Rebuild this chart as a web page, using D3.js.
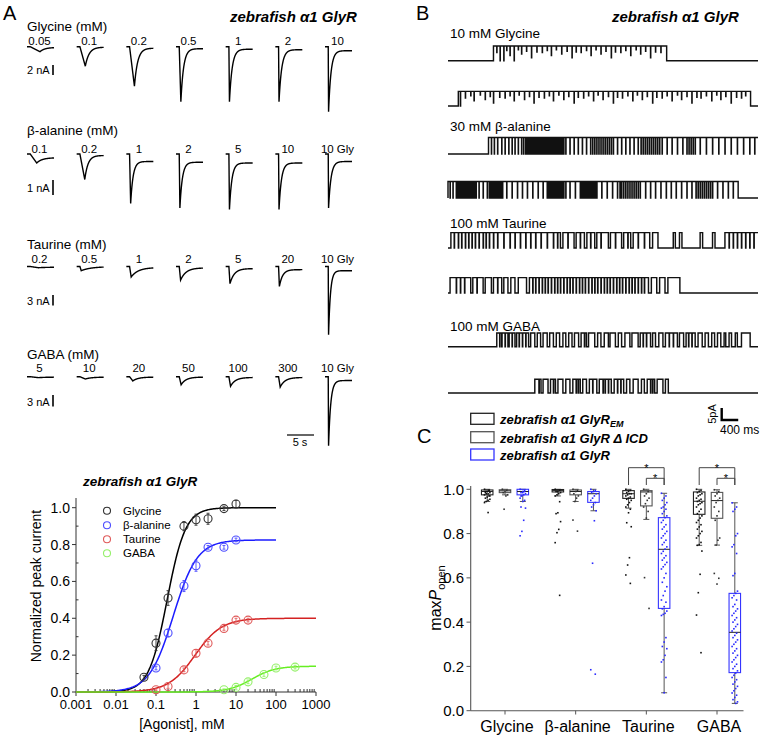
<!DOCTYPE html>
<html><head><meta charset="utf-8">
<script src="https://cdn.jsdelivr.net/npm/d3@7"></script>
<style>body{margin:0;background:#fff}svg{display:block;font-family:"Liberation Sans",Arial,sans-serif}</style>
</head><body><svg id="c" width="762" height="737"></svg>
<script>
// ---------------- Panel A : whole-cell traces ----------------
const rowNames = ["Glycine (mM)", "β-alanine (mM)", "Taurine (mM)", "GABA (mM)"];
const glyLabels = ["0.05","0.1","0.2","0.5","1","2","10"];
const glyPeak = [1.0, 3.9, 7.9, 11, 11, 11, 13];
const glyRise = [1.8, 1.0, 0.9, 0.3, 0.1, 0.08, 0.06];
const glyTau  = [0.9, 0.7, 0.6, 0.5, 0.5, 0.5, 0.45];
const glySS   = [0.15, 0.1, 0.3, 0.4, 0.5, 0.6, 0.8];
const alaLabels = ["0.1","0.2","1","2","5","10","10 Gly"];
const alaPeak = [0.6, 1.7, 3.3, 3.6, 3.7, 3.7, 3.6];
const alaRise = [1.2, 0.9, 0.2, 0.12, 0.1, 0.08, 0.06];
const alaTau  = [1.0, 0.6, 0.45, 0.45, 0.45, 0.45, 0.45];
const alaSS   = [0.25, 0.1, 0.5, 0.55, 0.6, 0.6, 0.5];
const tauLabels = ["0.2","0.5","1","2","5","20","10 Gly"];
const tauPeak = [0.35, 1.2, 3.0, 3.9, 4.9, 5.7, 19.5];
const tauRise = [1.5, 0.25, 0.3, 0.25, 0.2, 0.15, 0.06];
const tauTau  = [1.5, 1.8, 1.3, 1.0, 0.8, 0.6, 0.35];
const tauSS   = [0.2, 0.05, 0.3, 0.4, 0.6, 0.9, 1.2];
const gabLabels = ["5","10","20","50","100","300","10 Gly"];
const gabPeak = [0.25, 0.6, 1.1, 2.1, 2.5, 2.7, 18];
const gabRise = [1.5, 1.0, 0.6, 0.35, 0.3, 0.3, 0.06];
const gabTau  = [1.5, 1.2, 1.0, 0.9, 0.9, 0.9, 0.4];
const gabSS   = [0.1, 0.1, 0.1, 0.1, 0.2, 0.2, 1.0];
const scaleBarNA = [2, 1, 3, 3];

// ---------------- Panel A : concentration-response ----------------
const glyConc = [0.05,0.1,0.2,0.5,1,2,5,10];
const glyResp = [0.08,0.265,0.51,0.90,0.935,0.94,0.995,1.02];
const glySem  = [0.01,0.04,0.04,0.025,0.03,0.03,0.01,0.02];
const alaConc = [0.1,0.2,0.5,1,2,5,10];
const alaResp = [0.13,0.32,0.575,0.685,0.785,0.785,0.825];
const alaSem  = [0.01,0.02,0.03,0.03,0.01,0.01,0.01];
const tauConc = [0.1,0.2,0.5,1,2,5,10,20];
const tauResp = [0.012,0.03,0.12,0.21,0.265,0.345,0.39,0.39];
const tauSem  = [0.005,0.01,0.01,0.02,0.01,0.01,0.01,0.01];
const gabConc = [5,10,20,50,100,300];
const gabResp = [0.012,0.025,0.055,0.095,0.13,0.135];
const gabSem  = [0.005,0.01,0.01,0.01,0.01,0.01];
// Hill fit parameters: EC50 (mM), nH, Imax, upper conc of drawn fit
const fitEC50 = [0.19, 0.27, 0.95, 25];
const fitHill = [1.9, 1.45, 1.3, 1.5];
const fitMax  = [1.0, 0.825, 0.40, 0.14];
const fitTop  = [100, 100, 1000, 1000];
const agonists = ["Glycine", "β-alanine", "Taurine", "GABA"];
const xTickVals = [0.001,0.01,0.1,1,10,100,1000];
const xTickLabels = ["0.001","0.01","0.1","1","10","100","1000"];
const yTickVals = [0,0.2,0.4,0.6,0.8,1.0];

// ---------------- Panel B : single-channel (times in s, 0–7.5 s) ----------------
const bLabels = ["10 mM Glycine","30 mM β-alanine","100 mM Taurine","100 mM GABA"];
const bAmpPA = [6.1, 6.9, 6.4, 5.7];
const flickerDepths = [0.45, 0.3, 0.65, 0.25, 0.55, 0.35, 0.8, 0.4];
const tr1Open = [[1.10,5.29]];
const tr1Close = [1.26,1.35,1.60];
const tr1Partial = [1.18,1.42,1.5,1.7,1.78,1.9,2.02,2.15,2.28,2.4,2.5,2.62,2.75,2.88,3.0,3.1,3.22,3.35,3.46,3.58,3.7,3.82,3.95,4.05,4.18,4.3,4.42,4.55,4.66,4.78,4.9,5.02,5.15];
const tr2Open = [[0.25,7.32]];
const tr2Close = [0.3];
const tr2Partial = [0.42,0.55,0.63,0.78,0.9,1.02,1.1,1.25,1.38,1.5,1.6,1.72,1.85,1.97,2.08,2.2,2.33,2.45,2.55,2.68,2.8,2.92,3.05,3.15,3.28,3.4,3.52,3.63,3.75,3.88,4.0,4.1,4.22,4.35,4.47,4.58,4.7,4.82,4.95,5.05,5.18,5.3,5.42,5.55,5.65,5.78,5.9,6.02,6.12,6.25,6.38,6.5,6.6,6.72,6.85,6.98,7.1,7.2];
const tr3Open = [[0.98,7.5]];
const tr3Close = [1.05,1.12,1.2,1.3,1.38,1.47,1.55,1.62,1.7,1.78,1.83,1.88,1.92,1.96,2.0,2.04,2.08,2.12,2.16,2.2,2.24,2.28,2.32,2.36,2.4,2.44,2.48,2.52,2.56,2.6,2.64,2.68,2.72,2.76,2.8,2.85,2.95,3.05,3.15,3.25,3.35,3.45,3.5,3.55,3.6,3.65,3.7,3.75,3.8,3.85,3.9,3.95,4.0,4.1,4.2,4.3,4.4,4.5,4.6,4.67,4.72,4.77,4.82,4.87,4.92,4.97,5.02,5.07,5.12,5.18,5.3,5.42,5.55,5.68,5.78,5.83,5.88,5.93,5.98,6.1,6.25,6.4,6.55,6.7,6.85,7.0,7.15,7.3,7.42];
const tr4Open = [[0,7.02]];
const tr4Close = [0.05,0.12,0.2,0.24,0.28,0.32,0.36,0.4,0.44,0.48,0.52,0.56,0.6,0.64,0.68,0.75,0.85,0.95,1.0,1.04,1.08,1.12,1.16,1.2,1.24,1.28,1.32,1.42,1.55,1.68,1.8,1.92,2.05,2.18,2.3,2.4,2.44,2.48,2.52,2.56,2.6,2.64,2.68,2.72,2.76,2.8,2.85,2.95,3.08,3.2,3.24,3.28,3.32,3.36,3.4,3.44,3.48,3.52,3.56,3.6,3.72,3.85,3.98,4.1,4.16,4.2,4.25,4.3,4.35,4.4,4.45,4.5,4.55,4.6,4.65,4.78,4.9,5.02,5.15,5.28,5.4,5.52,5.65,5.78,5.9,6.0,6.05,6.1,6.15,6.2,6.25,6.3,6.35,6.4,6.52,6.65,6.78,6.9];
const tr5Open = [[0.07,2.72],[2.78,3.05],[3.10,3.30],[3.36,3.55],[3.60,3.88],[3.93,4.20],[4.25,4.42],[4.48,4.88],[4.95,5.08],[5.45,5.50],[5.60,5.66],[6.10,6.16],[6.40,6.46],[6.70,7.5]];
const tr5Close = [0.15,0.25,0.33,0.42,0.5,0.58,0.66,0.75,0.85,0.92,1.0,1.1,1.2,1.35,1.5,1.62,1.75,1.88,2.0,2.12,2.25,2.4,2.55,2.65,2.9,3.2,3.45,3.7,4.05,4.35,4.6,4.75,6.8,6.9,7.0,7.1,7.2,7.3,7.4];
const tr6Open = [[0.05,0.55],[0.60,0.85],[0.90,1.05],[1.10,1.30],[1.35,1.45],[1.52,1.62],[1.70,1.90],[1.97,4.85],[4.92,5.05],[5.12,5.25],[5.32,5.61]];
const tr6Close = [0.2,0.3,0.4,0.7,1.2,2.05,2.12,2.2,2.28,2.35,2.42,2.5,2.58,2.65,2.72,2.8,2.88,2.95,3.02,3.1,3.18,3.25,3.32,3.4,3.48,3.55,3.62,3.7,3.78,3.85,3.92,4.0,4.08,4.15,4.22,4.3,4.38,4.45,4.52,4.6,4.68,4.75];
const tr7Open = [[1.18,1.45],[1.48,1.62],[1.66,1.95],[2.00,2.10],[2.16,2.24],[2.30,2.40],[2.46,2.55],[2.62,2.70],[2.78,2.85],[2.92,3.00],[3.06,3.16],[3.22,3.35],[3.40,3.55],[3.62,3.70],[3.78,3.88],[3.92,4.05],[4.12,4.20],[4.28,4.40],[4.45,4.60],[4.65,4.90],[4.95,5.02],[5.10,5.20],[5.26,5.55],[5.60,5.70],[5.76,5.98],[6.05,6.15],[6.22,6.30],[6.38,6.45],[6.52,6.60],[6.68,6.72],[6.80,6.86],[6.95,7.0],[7.1,7.31]];
const tr7Close = [1.25,1.3,1.38,1.55,1.72,1.8,1.88,3.3,4.72,4.8,5.35,5.45,5.82,5.9];
const tr8Open = [[2.10,2.25],[2.30,2.42],[2.48,2.60],[2.66,2.78],[2.85,2.95],[3.02,3.20],[3.26,3.35],[3.42,3.60],[3.66,3.95],[4.02,4.25],[4.32,4.40],[4.48,4.60],[4.68,4.75],[4.82,5.00],[5.06,5.20],[5.26,5.33]];
const tr8Close = [2.2,2.55,3.1,3.15,3.5,3.75,3.8,3.88,4.1,4.18,4.9,4.95];

// ---------------- Panel C : max Popen ----------------
const cCats = ["Glycine","β-alanine","Taurine","GABA"];
const cConstructs = ["EM","dICD","WT"];
// box stats: [whiskerLow, q1, median, q3, whiskerHigh]
const boxEM   = [[0.945,0.975,0.99,0.997,1.0],[0.97,0.988,0.995,0.999,1.0],[0.915,0.959,0.98,0.994,1.0],[0.747,0.887,0.946,0.988,1.0]];
const boxDICD = [[0.975,0.985,0.993,0.998,1.0],[0.945,0.975,0.99,0.997,1.0],[0.864,0.925,0.988,0.994,1.0],[0.748,0.869,0.949,0.986,0.998]];
const boxWT   = [[0.945,0.975,0.99,1.0,1.0],[0.903,0.941,0.98,0.99,1.0],[0.081,0.462,0.729,0.872,0.982],[0.033,0.172,0.354,0.530,0.939]];
const ptsEM = [
 [1.0,0.995,0.99,0.99,0.985,0.98,0.98,0.975,0.97,0.965,0.96,0.955,0.95,0.945,0.94,0.995,0.99,0.985,0.97,0.895],
 [1.0,0.995,0.99,0.99,0.985,0.98,0.975,0.97,0.944,0.894,0.89,0.854,0.819,0.804,0.759,0.521],
 [1.0,0.995,0.99,0.985,0.98,0.98,0.975,0.97,0.965,0.96,0.955,0.95,0.94,0.93,0.92,0.91,0.894,0.849,0.831,0.691,0.658,0.613,0.575],
 [1.0,0.995,0.99,0.985,0.98,0.975,0.97,0.96,0.955,0.95,0.945,0.94,0.935,0.93,0.92,0.91,0.9,0.89,0.88,0.87,0.86,0.85,0.84,0.83,0.82,0.81,0.8,0.79,0.78,0.76,0.75,0.747,0.721,0.616,0.533,0.432,0.262]];
const ptsDICD = [
 [1.0,0.995,0.99,0.985,0.975,0.97,0.91],
 [1.0,0.995,0.99,0.98,0.97,0.96,0.945,0.861,0.811],
 [1.0,0.99,0.98,0.97,0.96,0.95,0.935,0.92,0.9,0.87,0.601,0.462],
 [0.998,0.99,0.98,0.97,0.96,0.95,0.94,0.92,0.9,0.88,0.86,0.78,0.77,0.748,0.62,0.598,0.572]];
const ptsWT = [
 [1.0,0.995,0.99,0.985,0.98,0.975,0.97,0.96,0.95,0.945,0.92,0.915,0.86,0.81,0.79,0.99,0.985,0.97],
 [1.0,0.995,0.99,0.985,0.98,0.97,0.96,0.95,0.94,0.93,0.92,0.903,0.858,0.666,0.185,0.165],
 [0.982,0.97,0.96,0.95,0.94,0.93,0.92,0.915,0.91,0.9,0.89,0.88,0.872,0.86,0.85,0.84,0.83,0.82,0.81,0.8,0.79,0.78,0.77,0.76,0.75,0.74,0.73,0.72,0.71,0.7,0.69,0.68,0.67,0.66,0.65,0.64,0.62,0.6,0.58,0.56,0.54,0.52,0.5,0.49,0.47,0.46,0.45,0.44,0.435,0.43,0.33,0.31,0.29,0.28,0.25,0.23,0.22,0.15,0.081],
 [0.939,0.92,0.91,0.9,0.8,0.79,0.75,0.74,0.71,0.62,0.61,0.54,0.53,0.52,0.51,0.5,0.48,0.47,0.46,0.45,0.44,0.43,0.42,0.41,0.4,0.39,0.38,0.37,0.36,0.35,0.34,0.33,0.32,0.31,0.3,0.29,0.28,0.27,0.26,0.25,0.24,0.23,0.22,0.21,0.2,0.19,0.18,0.17,0.16,0.15,0.14,0.13,0.12,0.11,0.1,0.09,0.08,0.07,0.06,0.05,0.04,0.033]];
const sigCats = ["Taurine","GABA"];
const cYTicks = [0,0.2,0.4,0.6,0.8,1.0];

// =====================================================================
const svg = d3.select("#c");
function txt(x, y, s, size, opts = {}) {
  const t = svg.append("text").attr("x", x).attr("y", y).attr("font-size", size).attr("fill", opts.fill || "#000").text(s);
  if (opts.anchor) t.attr("text-anchor", opts.anchor);
  if (opts.bold) t.attr("font-weight", "bold");
  if (opts.italic) t.attr("font-style", "italic");
  return t;
}
txt(3, 19.5, "A", 20);
txt(416, 19.5, "B", 20);
txt(417, 443, "C", 20);
txt(230, 21.5, "zebrafish α1 GlyR", 15, {bold:1, italic:1});
txt(612, 21.5, "zebrafish α1 GlyR", 15, {bold:1, italic:1});

// ---- Panel A traces
const rows = [
  {labels: glyLabels, peak: glyPeak, rise: glyRise, tau: glyTau, ss: glySS},
  {labels: alaLabels, peak: alaPeak, rise: alaRise, tau: alaTau, ss: alaSS},
  {labels: tauLabels, peak: tauPeak, rise: tauRise, tau: tauTau, ss: tauSS},
  {labels: gabLabels, peak: gabPeak, rise: gabRise, tau: gabTau, ss: gabSS}];
const rowLay = [
  {head:30.5, lab:44.5, base:46.7, barY:65, barPx:10, barText:73.5},
  {head:135, lab:152.5, base:154, barY:180, barPx:15, barText:191.5},
  {head:248.5, lab:262.5, base:266.5, barY:295, barPx:10.5, barText:305},
  {head:358.5, lab:371.5, base:376.7, barY:395, barPx:11.5, barText:405.5}];
const colX = d3.scalePoint().domain(d3.range(7)).range([27, 325]);
const traceDur = 5, traceW = 27, t0 = 0.6;
const tSamples = d3.range(0, traceDur + 0.0001, 0.02);
rows.forEach((r, ri) => {
  const L = rowLay[ri];
  txt(27, L.head, rowNames[ri], 13.5);
  const amp = d3.scaleLinear().domain([0, scaleBarNA[ri]]).range([0, L.barPx]);
  r.labels.forEach((lab, i) => {
    const x0 = colX(i);
    const tx = d3.scaleLinear().domain([0, traceDur]).range([x0, x0 + traceW]);
    txt(x0 + traceW / 2 - 1, L.lab, lab, 11.5, {anchor: "middle"});
    const cur = t => {
      if (t < t0) return 0;
      if (t < t0 + r.rise[i]) return r.peak[i] * (t - t0) / r.rise[i];
      return r.ss[i] + (r.peak[i] - r.ss[i]) * Math.exp(-(t - t0 - r.rise[i]) / r.tau[i]);
    };
    const pts = tSamples.map(t => [t, cur(t)]);
    pts.push([t0 + r.rise[i], r.peak[i]]);
    pts.sort((a,b)=>a[0]-b[0]);
    svg.append("path").attr("d", d3.line().x(d => tx(d[0])).y(d => L.base + amp(d[1]))(pts))
      .attr("fill", "none").attr("stroke", "#000").attr("stroke-width", 1.4);
  });
  txt(27, L.barText, scaleBarNA[ri] + " nA", 11);
  svg.append("line").attr("x1", 53).attr("x2", 53).attr("y1", L.barY).attr("y2", L.barY + L.barPx)
    .attr("stroke", "#000").attr("stroke-width", 1.6);
});
svg.append("line").attr("x1", 287).attr("x2", 287 + traceW).attr("y1", 435).attr("y2", 435).attr("stroke", "#000").attr("stroke-width", 1.2);
txt(300, 446, "5 s", 11, {anchor: "middle"});

// ---- Panel A concentration-response
const xD = d3.scaleLog().domain([0.001, 1000]).range([76, 316]);
const yD = d3.scaleLinear().domain([0, 1]).range([692, 507.7]);
txt(83, 486, "zebrafish α1 GlyR", 13.5, {bold:1, italic:1});
const axC = "#333";
svg.append("line").attr("x1", 76).attr("x2", 76).attr("y1", 498).attr("y2", 692).attr("stroke", axC);
svg.append("line").attr("x1", 76).attr("x2", 316).attr("y1", 692).attr("y2", 692).attr("stroke", axC);
yTickVals.forEach(v => {
  svg.append("line").attr("x1", 72).attr("x2", 76).attr("y1", yD(v)).attr("y2", yD(v)).attr("stroke", axC);
  txt(70, yD(v) + 5, v.toFixed(1), 14, {anchor: "end"});
});
d3.range(0.1, 1.0, 0.2).forEach(v => svg.append("line").attr("x1", 76).attr("x2", 78.5).attr("y1", yD(v)).attr("y2", yD(v)).attr("stroke", axC));
xTickVals.forEach((v, i) => {
  svg.append("line").attr("x1", xD(v)).attr("x2", xD(v)).attr("y1", 692).attr("y2", 696).attr("stroke", axC);
  txt(xD(v), 709, xTickLabels[i], 13, {anchor: "middle"});
  if (v < 1000) d3.range(2, 10).forEach(m => svg.append("line").attr("x1", xD(v*m)).attr("x2", xD(v*m)).attr("y1", 692).attr("y2", 689).attr("stroke", axC));
});
txt(182, 729, "[Agonist], mM", 14, {anchor: "middle"});
svg.append("text").attr("transform", "translate(41,586) rotate(-90)").attr("text-anchor", "middle").attr("font-size", 14).text("Normalized peak current");

const lineCols = ["#000000", "#1c1cff", "#d42222", "#66ee22"];
const ptCols = ["#333333", "#4d4dff", "#e05a5a", "#95f06a"];
const doseSets = [[glyConc, glyResp, glySem], [alaConc, alaResp, alaSem], [tauConc, tauResp, tauSem], [gabConc, gabResp, gabSem]];
doseSets.forEach((ds, k) => {
  const logs = d3.range(-3, Math.log10(fitTop[k]) + 0.0001, 0.02);
  const curve = logs.map(l => { const c = Math.pow(10, l); return [c, fitMax[k] / (1 + Math.pow(fitEC50[k] / c, fitHill[k]))]; });
  svg.append("path").attr("d", d3.line().x(d => xD(d[0])).y(d => yD(d[1]))(curve))
    .attr("fill", "none").attr("stroke", lineCols[k]).attr("stroke-width", 1.5);
});
doseSets.forEach((ds, k) => {
  const [cs, vs, se] = ds;
  cs.forEach((c, i) => {
    const x = xD(c);
    svg.append("line").attr("x1", x).attr("x2", x).attr("y1", yD(vs[i] - se[i])).attr("y2", yD(vs[i] + se[i])).attr("stroke", ptCols[k]).attr("stroke-width", 0.9);
    [vs[i] - se[i], vs[i] + se[i]].forEach(v => svg.append("line").attr("x1", x - 1.5).attr("x2", x + 1.5).attr("y1", yD(v)).attr("y2", yD(v)).attr("stroke", ptCols[k]).attr("stroke-width", 0.9));
    svg.append("circle").attr("cx", x).attr("cy", yD(vs[i])).attr("r", 4).attr("fill", "none").attr("stroke", ptCols[k]).attr("stroke-width", 1.1);
  });
});
const legY = [510.7, 525.3, 539.3, 553.3];
agonists.forEach((a, k) => {
  svg.append("circle").attr("cx", 107).attr("cy", legY[k]).attr("r", 3.5).attr("fill", "none").attr("stroke", ptCols[k]).attr("stroke-width", 1.1);
  txt(123, legY[k] + 4, a, 11.5);
});

// ---- Panel B single-channel traces
const xB = d3.scaleLinear().domain([0, 7.5]).range([448, 758]);
const pxPerPA = 12 / 5;
const bTraces = [
  {open: tr1Open, close: tr1Close, part: tr1Partial, y: 60.7, ag: 0},
  {open: tr2Open, close: tr2Close, part: tr2Partial, y: 106, ag: 0},
  {open: tr3Open, close: tr3Close, part: [], y: 154, ag: 1},
  {open: tr4Open, close: tr4Close, part: [], y: 198, ag: 1},
  {open: tr5Open, close: tr5Close, part: [], y: 248, ag: 2},
  {open: tr6Open, close: tr6Close, part: [], y: 293, ag: 2},
  {open: tr7Open, close: tr7Close, part: [], y: 346.7, ag: 3},
  {open: tr8Open, close: tr8Close, part: [], y: 393, ag: 3}];
const bLabY = [38, 131, 227.5, 330.5];
bLabels.forEach((l, k) => txt(450, bLabY[k], l, 13.5));
bTraces.forEach(tr => {
  const cd = tr.ag <= 1 ? 0.005 : 0.008;
  const pts = [[0, 0]];
  let endOpen = false;
  tr.open.forEach(([s, e]) => {
    pts.push([s, 0], [s, 1]);
    const ev = tr.close.filter(c => c > s && c < e).map(c => [c, 0])
      .concat(tr.part.filter(c => c > s && c < e).map((c, i) => [c, 1 - flickerDepths[i % flickerDepths.length]]))
      .sort((a, b) => a[0] - b[0]);
    ev.forEach(([c, l]) => pts.push([c, 1], [c, l], [c + cd, l], [c + cd, 1]));
    if (e >= 7.5) { pts.push([7.5, 1]); endOpen = true; }
    else pts.push([e, 1], [e, 0]);
  });
  if (!endOpen) pts.push([7.5, 0]);
  const amp = bAmpPA[tr.ag] * pxPerPA;
  svg.append("path").attr("d", d3.line().x(d => xB(d[0])).y(d => tr.y - d[1] * amp)(pts))
    .attr("fill", "none").attr("stroke", "#111").attr("stroke-width", 1.45);
});
svg.append("path").attr("d", `M721.7,${420 - 5 * pxPerPA}V420H${721.7 + (0.4 / 7.5) * 310}`).attr("fill", "none").attr("stroke", "#000").attr("stroke-width", 2.4);
svg.append("text").attr("transform", "translate(716,414) rotate(-90)").attr("text-anchor", "middle").attr("font-size", 11).text("5pA");
txt(720, 434, "400 ms", 12);

// ---- Panel C box plot
const yC = d3.scaleLinear().domain([0, 1]).range([710.7, 489.3]);
const xC = d3.scalePoint().domain(cCats).range([505, 717]);
const off = [-17.8, 0, 17.8];
const boxCol = ["#222222", "#555555", "#3535ff"];
const dotCol = ["#111111", "#333333", "#2a2aff"];
const legRowY = [413.3, 431.7, 449];
const legNames = ["zebrafish α1 GlyR", "zebrafish α1 GlyR  Δ ICD", "zebrafish α1 GlyR"];
legNames.forEach((n, k) => {
  svg.append("rect").attr("x", 470.7).attr("y", legRowY[k]).attr("width", 23.3).attr("height", 11).attr("fill", "none").attr("stroke", boxCol[k]).attr("stroke-width", 1.3);
  const t = txt(500, legRowY[k] + 11, n, 13, {bold:1, italic:1});
  if (k === 0) t.append("tspan").attr("font-size", 9).attr("dy", 3).text("EM");
});
svg.append("line").attr("x1", 470.7).attr("x2", 470.7).attr("y1", 486).attr("y2", 710.7).attr("stroke", "#555").attr("stroke-width", 1.1);
svg.append("line").attr("x1", 470.7).attr("x2", 743.5).attr("y1", 710.7).attr("y2", 710.7).attr("stroke", "#555").attr("stroke-width", 1.1);
cYTicks.forEach(v => {
  svg.append("line").attr("x1", 466.5).attr("x2", 470.7).attr("y1", yC(v)).attr("y2", yC(v)).attr("stroke", "#555");
  txt(464, yC(v) + 5.5, v.toFixed(1), 15, {anchor: "end"});
});
cCats.forEach(c => {
  svg.append("line").attr("x1", xC(c)).attr("x2", xC(c)).attr("y1", 710.7).attr("y2", 714.5).attr("stroke", "#555");
  txt(xC(c) + 2, 732, c, 16, {anchor: "middle"});
});
const yl = svg.append("text").attr("transform", "translate(441,598) rotate(-90)").attr("text-anchor", "middle").attr("font-size", 16);
yl.append("tspan").text("max");
yl.append("tspan").attr("font-style", "italic").text("P");
yl.append("tspan").attr("font-size", 11).attr("dy", 4).text("open");

const boxes = [boxEM, boxDICD, boxWT];
const pts = [ptsEM, ptsDICD, ptsWT];
const bw = 11.5;
cCats.forEach((c, gi) => {
  cConstructs.forEach((k, ki) => {
    const cx = xC(c) + off[ki];
    const [wl, q1, md, q3, wh] = boxes[ki][gi];
    const wc = "#555";
    svg.append("line").attr("x1", cx).attr("x2", cx).attr("y1", yC(wh)).attr("y2", yC(q3)).attr("stroke", wc);
    svg.append("line").attr("x1", cx).attr("x2", cx).attr("y1", yC(q1)).attr("y2", yC(wl)).attr("stroke", wc);
    [wl, wh].forEach(v => svg.append("line").attr("x1", cx - 3).attr("x2", cx + 3).attr("y1", yC(v)).attr("y2", yC(v)).attr("stroke", wc));
    svg.append("rect").attr("x", cx - bw / 2).attr("y", yC(q3)).attr("width", bw).attr("height", Math.max(1, yC(q1) - yC(q3)))
      .attr("fill", "none").attr("stroke", boxCol[ki]).attr("stroke-width", 1.1);
    svg.append("line").attr("x1", cx - bw / 2).attr("x2", cx + bw / 2).attr("y1", yC(md)).attr("y2", yC(md)).attr("stroke", "#222").attr("stroke-width", 1);
    pts[ki][gi].forEach((v, i) => {
      const j = ((i * 5) % 7 - 3) * 0.9;
      svg.append("rect").attr("x", cx + j - 0.8).attr("y", yC(v) - 0.8).attr("width", 1.6).attr("height", 1.6).attr("fill", dotCol[ki]);
    });
  });
});
sigCats.forEach(c => {
  const a = xC(c) + off[0], b = xC(c) + off[1], w = xC(c) + off[2];
  svg.append("path").attr("d", `M${a},485V467.7H${w}V485`).attr("fill", "none").attr("stroke", "#444").attr("stroke-width", 1);
  svg.append("path").attr("d", `M${b},485V478.3H${w}V485`).attr("fill", "none").attr("stroke", "#444").attr("stroke-width", 1);
  txt((a + w) / 2, 471.5, "*", 11, {anchor: "middle"});
  txt((b + w) / 2, 482, "*", 11, {anchor: "middle"});
});
</script></body></html>
